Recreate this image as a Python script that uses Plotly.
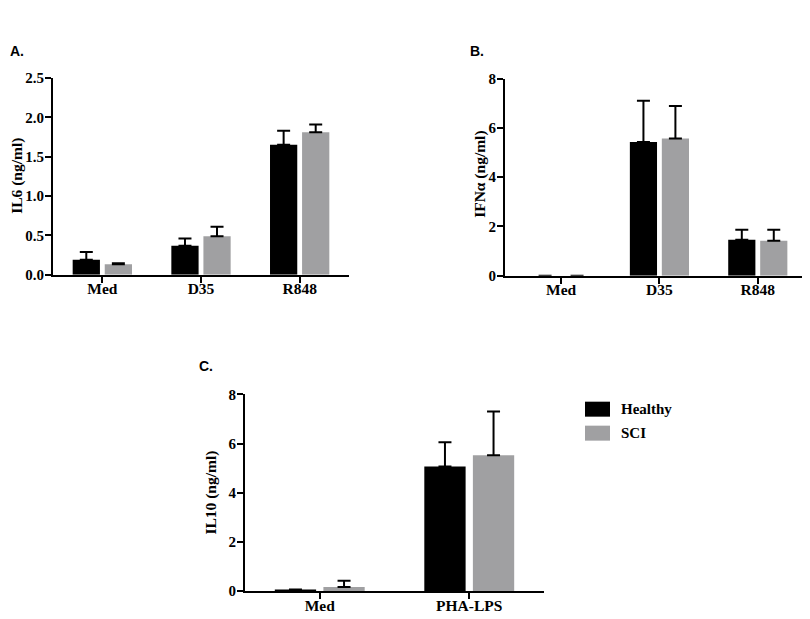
import plotly.graph_objects as go

# ---------------- data ----------------
series_names = ["Healthy", "SCI"]
series_colors = ["#000000", "#a0a0a2"]

# Panel A: IL6
a_categories = ["Med", "D35", "R848"]
a_healthy = [0.19, 0.37, 1.65]
a_healthy_err = [0.10, 0.09, 0.18]
a_sci = [0.135, 0.49, 1.81]
a_sci_err = [0.01, 0.12, 0.10]
a_ticks = [0.0, 0.5, 1.0, 1.5, 2.0, 2.5]

# Panel B: IFNα
b_categories = ["Med", "D35", "R848"]
b_healthy = [0.0, 5.43, 1.46]
b_healthy_err = [0.0, 1.67, 0.41]
b_sci = [0.0, 5.57, 1.42]
b_sci_err = [0.0, 1.32, 0.45]
b_ticks = [0, 2, 4, 6, 8]

# Panel C: IL10
c_categories = ["Med", "PHA-LPS"]
c_healthy = [0.05, 5.07]
c_healthy_err = [0.02, 0.98]
c_sci = [0.17, 5.53]
c_sci_err = [0.26, 1.77]
c_ticks = [0, 2, 4, 6, 8]

W, H = 810, 619
SERIF = "Liberation Serif"
SANS = "Liberation Sans"

# map target screen pixels to paper fractions (page offset / scale measured)
OX, OY, RH = 6.0, 15.0, 603.5

def fx(px):
    return (px - OX) / W

def fy(py):
    return 1 - (py - OY) / RH

def px_x(a, b):
    return [max(0.0, fx(a)), min(1.0, fx(b))]

def px_y(bottom, top):
    return [max(0.0, fy(bottom)), min(1.0, fy(top))]

fig = go.Figure()

panels = [
    ("x", "y", a_categories, [a_healthy, a_sci], [a_healthy_err, a_sci_err]),
    ("x2", "y2", b_categories, [b_healthy, b_sci], [b_healthy_err, b_sci_err]),
    ("x3", "y3", c_categories, [c_healthy, c_sci], [c_healthy_err, c_sci_err]),
]

for xa, ya, cats, vals, errs in panels:
    for name, color, v, e in zip(series_names, series_colors, vals, errs):
        # no error bar drawn where there is no error
        e_up = [ev if ev > 0 else None for ev in e]
        e_down = [0 if ev > 0 else None for ev in e]
        fig.add_trace(go.Bar(
            x=cats, y=v, name=name, xaxis=xa, yaxis=ya,
            marker=dict(color=color, line=dict(width=0)),
            error_y=dict(type="data", array=e_up, arrayminus=e_down,
                         symmetric=False, color="black", thickness=2, width=6.5),
            showlegend=False,
        ))

def xaxis(domain, rng, anchor):
    return dict(domain=domain, range=rng, anchor=anchor, type="category",
                showline=True, linecolor="black", linewidth=2,
                ticks="outside", ticklen=6, tickwidth=2, tickcolor="black",
                ticklabelstandoff=-7,
                showgrid=False, zeroline=False,
                tickfont=dict(family=SERIF, size=15.5, color="black", weight="bold"),
                fixedrange=True)

def yaxis(domain, rng, anchor, ticks, fmt):
    return dict(domain=domain, range=rng, anchor=anchor,
                tickmode="array", tickvals=ticks, tickformat=fmt,
                showline=True, linecolor="black", linewidth=2,
                ticks="outside", ticklen=6, tickwidth=2, tickcolor="black",
                ticklabelstandoff=-2,
                showgrid=False, zeroline=False,
                tickfont=dict(family=SERIF, size=15, color="black", weight="bold"),
                fixedrange=True)

fig.update_layout(
    width=W, height=H,
    margin=dict(l=0, r=0, t=0, b=0),
    paper_bgcolor="white", plot_bgcolor="white",
    barmode="group", bargap=0.35, bargroupgap=0.15,
    showlegend=False,
    xaxis=xaxis(px_x(51, 347), [-0.5, 2.5], "y"),
    yaxis=yaxis(px_y(274, 77), [0, 2.5], "x", a_ticks, ".1f"),
    xaxis2=xaxis(px_x(503, 803), [-0.57, 2.48], "y2"),
    yaxis2=yaxis(px_y(275, 77.7), [0, 8], "x2", b_ticks, "d"),
    xaxis3=xaxis(px_x(243, 542), [-0.5, 1.5], "y3"),
    yaxis3=yaxis(px_y(590.7, 393.7), [0, 8], "x3", c_ticks, "d"),
)

annotations = []
# panel letters
for txt, x, y in [("A.", 6, 50), ("B.", 466, 50), ("C.", 195, 365)]:
    annotations.append(dict(text=txt, x=fx(x), y=fy(y), xref="paper", yref="paper",
                            xanchor="left", yanchor="middle", showarrow=False,
                            font=dict(family=SANS, size=14, color="black", weight="bold")))
# axis titles
for txt, x, y in [("IL6 (ng/ml)", 15, 175), ("IFNα (ng/ml)", 478, 174), ("IL10 (ng/ml)", 209, 492)]:
    annotations.append(dict(text=txt, x=fx(x), y=fy(y), xref="paper", yref="paper",
                            xanchor="center", yanchor="middle", showarrow=False, textangle=-90,
                            font=dict(family=SERIF, size=15.5, color="black", weight="bold")))
# legend
legend_rows = [(401, 416), (425, 440)]
for name, color, (t, b) in zip(series_names, series_colors, legend_rows):
    fig.add_shape(type="rect", xref="paper", yref="paper",
                  x0=fx(583), x1=fx(608), y0=fy(b), y1=fy(t),
                  fillcolor=color, line=dict(width=0))
    annotations.append(dict(text=name, x=fx(617), y=fy((t + b) / 2), xref="paper", yref="paper",
                            xanchor="left", yanchor="middle", showarrow=False,
                            font=dict(family=SERIF, size=15, color="black", weight="bold")))

fig.update_layout(annotations=annotations)
fig.write_html("out.html")
